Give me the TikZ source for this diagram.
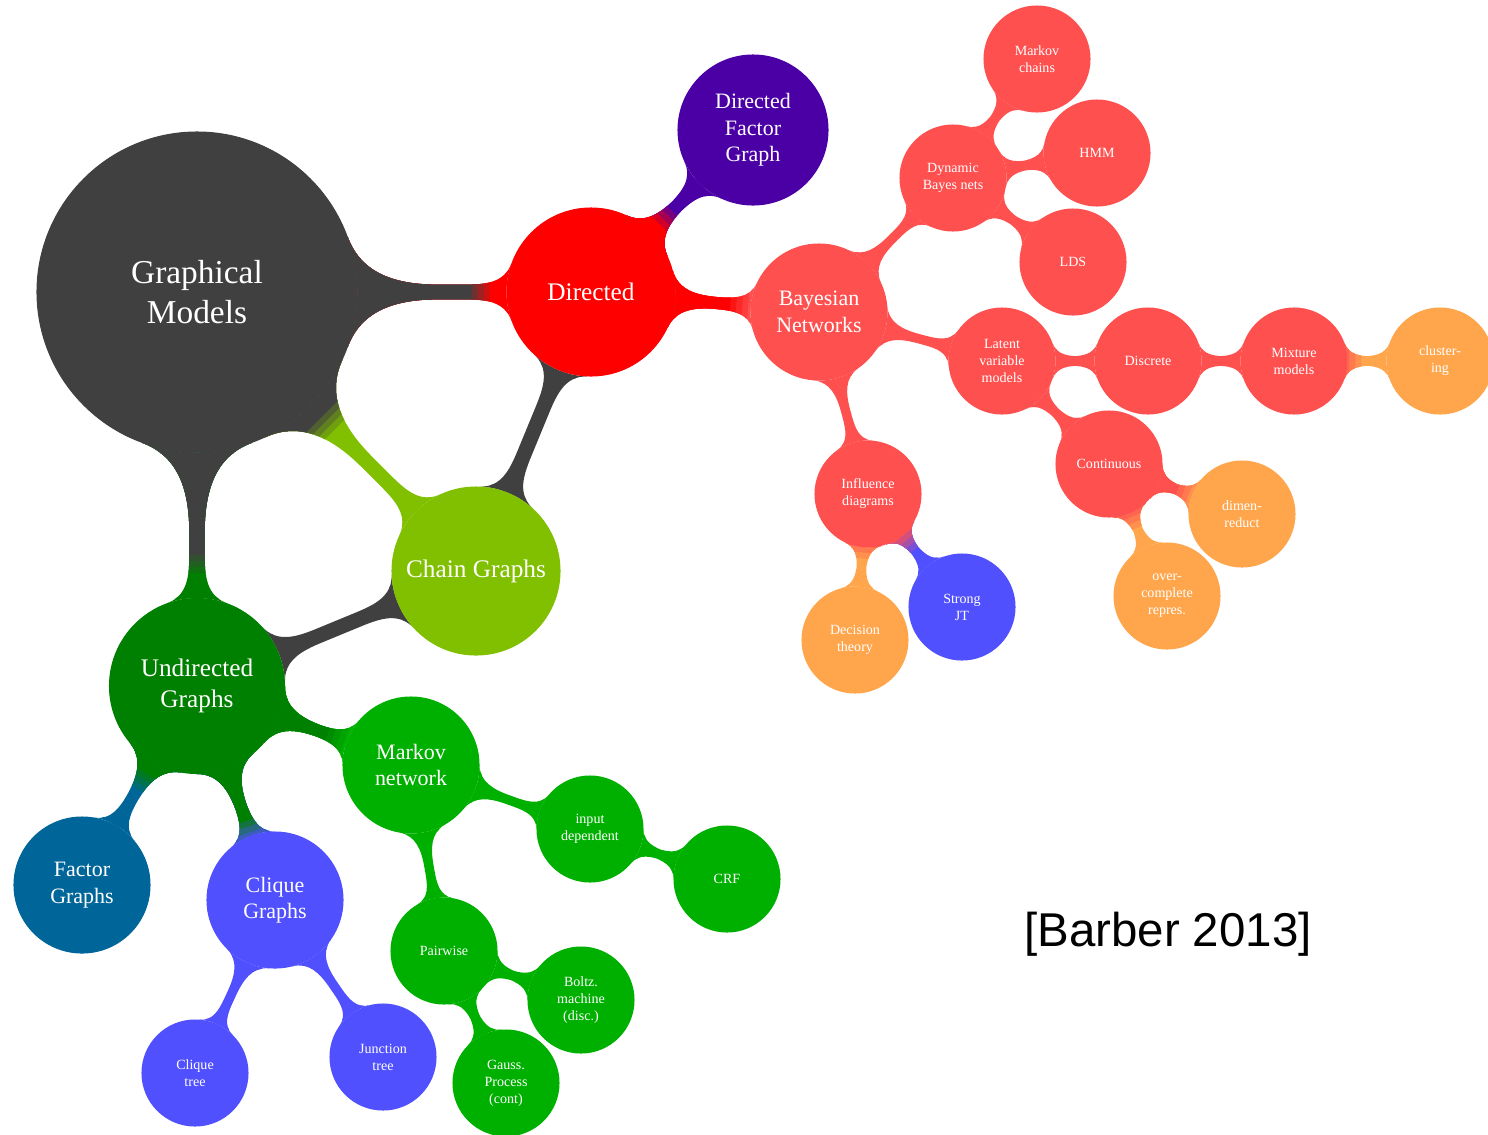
\documentclass[tikz,border=0pt]{standalone}
\usepackage{fontspec}
\setmainfont{Liberation Serif}
\newfontfamily\citefont{Liberation Sans}
\usetikzlibrary{mindmap,backgrounds,calc}
\definecolor{gmgray}{RGB}{64,64,64}
\definecolor{dirred}{RGB}{255,0,0}
\definecolor{dfgpurple}{RGB}{75,0,165}
\definecolor{chaingreen}{RGB}{128,192,0}
\definecolor{undgreen}{RGB}{0,128,0}
\definecolor{fgblue}{RGB}{0,102,153}
\definecolor{cgblue}{RGB}{80,80,255}
\definecolor{mngreen}{RGB}{0,176,0}
\definecolor{bnred}{RGB}{255,80,80}
\definecolor{orange}{RGB}{255,166,77}
\tikzset{
  con/.style      = {circle, fill=#1, draw=#1, line width=0.6pt, inner sep=0pt,
                     text=white, align=center},
  rootcon/.style  = {con=gmgray, minimum size=6.4cm,
                     font=\fontsize{19}{22.5}\selectfont},
  bigcon/.style   = {con=#1, minimum size=3.36cm,
                     font=\fontsize{14.4}{17.6}\selectfont},
  midcon/.style   = {con=#1, minimum size=2.72cm,
                     font=\fontsize{12.5}{15}\selectfont},
  smallcon/.style = {con=#1, minimum size=2.12cm,
                     font=\fontsize{8}{9.7}\selectfont},
  rootbar/.style  = {line width=2.8mm},
  midbar/.style   = {line width=2.2mm},
  smallbar/.style = {line width=1.7mm},
  sw/.style args  = {#1 to #2}{circle connection bar switch color=from (#1) to (#2)},
}
% #1 bar style, #2/#3 nodes, #4/#5 colours, #6 where the colour changes
\newcommand{\barlink}[6]{%
  \path[#1] (#2) to[sw=#5 to #5] (#3);
  \coordinate (swm) at ($(#2)!#6!(#3)$);
  \foreach \off/\mix in {0.18/25,0.06/50,-0.06/75,-0.18/100}{
    \begin{scope}
      \coordinate (swc) at ($(swm)!\off cm!(#3)$);
      \clip ($(swc)!15cm!90:(#3)$) -- ($(swc)!15cm!-90:(#3)$)
        -- ($(swc)!15cm!180:(#3)$) -- cycle;
      \path[#1] (#2) to[sw=#4!\mix!#5 to #4!\mix!#5] (#3);
    \end{scope}}}
\begin{document}
\begin{tikzpicture}
\useasboundingbox (0,0) rectangle (29.76,-22.68);
\node[rootcon] (gm) at (3.94,-5.84) {Graphical\\Models};
\node[bigcon=dirred] (dir) at (11.82,-5.84) {Directed};
\node[midcon=dfgpurple, minimum size=3cm] (dfg) at (15.06,-2.60) {Directed\\Factor\\Graph};
\node[bigcon=chaingreen] (chain) at (9.52,-11.42) {Chain Graphs};
\node[bigcon=undgreen, minimum size=3.5cm] (und) at (3.94,-13.72) {Undirected\\Graphs};
\node[midcon=fgblue] (fg) at (1.64,-17.70) {Factor\\Graphs};
\node[midcon=cgblue] (cg) at (5.50,-18.00) {Clique\\Graphs};
\node[smallcon=cgblue] (ct) at (3.90,-21.46) {Clique\\tree};
\node[smallcon=cgblue] (jt) at (7.66,-21.14) {Junction\\tree};
\node[midcon=mngreen] (mn) at (8.22,-15.30) {Markov\\network};
\node[smallcon=mngreen] (inp) at (11.80,-16.58) {input\\dependent};
\node[smallcon=mngreen] (crf) at (14.54,-17.58) {CRF};
\node[smallcon=mngreen] (pw) at (8.88,-19.02) {Pairwise};
\node[smallcon=mngreen] (bm) at (11.62,-20.00) {Boltz.\\machine\\(disc.)};
\node[smallcon=mngreen] (gp) at (10.12,-21.66) {Gauss.\\Process\\(cont)};
\node[midcon=bnred] (bn) at (16.38,-6.24) {Bayesian\\Networks};
\node[smallcon=bnred] (dbn) at (19.06,-3.56) {Dynamic\\Bayes nets};
\node[smallcon=bnred] (mc) at (20.74,-1.18) {Markov\\chains};
\node[smallcon=bnred] (hmm) at (21.94,-3.06) {HMM};
\node[smallcon=bnred] (lds) at (21.46,-5.24) {LDS};
\node[smallcon=bnred] (lvm) at (20.04,-7.22) {Latent\\variable\\models};
\node[smallcon=bnred] (disc) at (22.96,-7.22) {Discrete};
\node[smallcon=bnred] (mix) at (25.88,-7.22) {Mixture\\models};
\node[smallcon=orange] (clu) at (28.80,-7.22) {cluster-\\ing};
\node[smallcon=bnred] (cont) at (22.18,-9.28) {Continuous};
\node[smallcon=orange] (dim) at (24.84,-10.28) {dimen-\\reduct};
\node[smallcon=orange] (ovc) at (23.34,-11.92) {over-\\complete\\repres.};
\node[smallcon=bnred] (infl) at (17.36,-9.88) {Influence\\diagrams};
\node[smallcon=orange] (dec) at (17.10,-12.80) {Decision\\theory};
\node[smallcon=cgblue] (sjt) at (19.24,-12.14) {Strong\\JT};
\node[font=\citefont\fontsize{27}{32}\selectfont] (cite) at (23.36,-18.68) {[Barber 2013]};
\begin{pgfonlayer}{background}
\barlink{rootbar}{gm}{dir}{gmgray}{dirred}{0.72}
\barlink{rootbar}{gm}{chain}{gmgray}{chaingreen}{0.47}
\barlink{rootbar}{gm}{und}{gmgray}{undgreen}{0.69}
\path[rootbar] (chain) to[sw=gmgray to gmgray] (dir);
\path[rootbar] (chain) to[sw=gmgray to gmgray] (und);
\barlink{midbar}{dir}{dfg}{dirred}{dfgpurple}{0.46}
\barlink{midbar}{dir}{bn}{dirred}{bnred}{0.65}
\barlink{midbar}{und}{fg}{undgreen}{fgblue}{0.48}
\barlink{midbar}{und}{cg}{undgreen}{cgblue}{0.67}
\barlink{midbar}{und}{mn}{undgreen}{mngreen}{0.65}
\path[smallbar] (cg) to[sw=cgblue to cgblue] (ct);
\path[smallbar] (cg) to[sw=cgblue to cgblue] (jt);
\path[smallbar] (mn) to[sw=mngreen to mngreen] (inp);
\path[smallbar] (inp) to[sw=mngreen to mngreen] (crf);
\path[smallbar] (mn) to[sw=mngreen to mngreen] (pw);
\path[smallbar] (pw) to[sw=mngreen to mngreen] (bm);
\path[smallbar] (pw) to[sw=mngreen to mngreen] (gp);
\path[smallbar] (bn) to[sw=bnred to bnred] (dbn);
\path[smallbar] (dbn) to[sw=bnred to bnred] (mc);
\path[smallbar] (dbn) to[sw=bnred to bnred] (hmm);
\path[smallbar] (dbn) to[sw=bnred to bnred] (lds);
\path[smallbar] (bn) to[sw=bnred to bnred] (lvm);
\path[smallbar] (lvm) to[sw=bnred to bnred] (disc);
\path[smallbar] (disc) to[sw=bnred to bnred] (mix);
\barlink{smallbar}{mix}{clu}{bnred}{orange}{0.40}
\path[smallbar] (lvm) to[sw=bnred to bnred] (cont);
\barlink{smallbar}{cont}{dim}{bnred}{orange}{0.58}
\barlink{smallbar}{cont}{ovc}{bnred}{orange}{0.42}
\path[smallbar] (bn) to[sw=bnred to bnred] (infl);
\barlink{smallbar}{infl}{dec}{bnred}{orange}{0.38}
\barlink{smallbar}{infl}{sjt}{bnred}{cgblue}{0.43}
\end{pgfonlayer}
\end{tikzpicture}
\end{document}
